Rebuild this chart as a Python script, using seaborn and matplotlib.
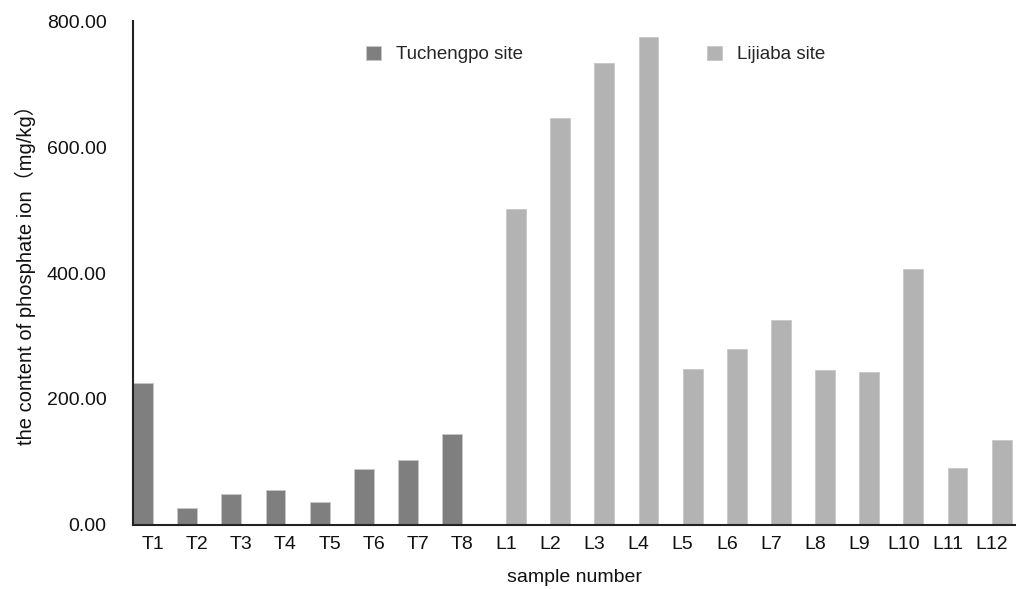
import pandas as pd
import matplotlib
matplotlib.use("Agg")
import matplotlib.pyplot as plt
import seaborn as sns

# sample values (mg/kg)
t_samples = ["T1", "T2", "T3", "T4", "T5", "T6", "T7", "T8"]
t_values = [226, 27, 49, 56, 37, 89, 103, 145]
l_samples = ["L1", "L2", "L3", "L4", "L5", "L6", "L7", "L8", "L9", "L10", "L11", "L12"]
l_values = [501, 647, 733, 775, 248, 280, 326, 246, 243, 407, 91, 135]
sites = ["Tuchengpo site", "Lijiaba site"]
site_colors = ["#7f7f7f", "#b3b3b3"]

df = pd.DataFrame({
    "sample": t_samples + l_samples,
    "value": t_values + l_values,
    "site": [sites[0]] * len(t_samples) + [sites[1]] * len(l_samples),
})

sns.set_style("white")
plt.rcParams["font.family"] = ["Liberation Sans", "Noto Sans CJK SC", "DejaVu Sans"]

fig = plt.figure(figsize=(10.16, 5.89), dpi=100)
ax = fig.add_axes([0.131, 0.109, 0.869, 0.855])

sns.barplot(data=df, x="sample", y="value", hue="site", hue_order=sites,
            palette=site_colors, width=0.9, dodge=True, ax=ax,
            edgecolor="#c8c8c8", linewidth=0.6, saturation=1)

ax.set_xlim(-0.45, 19.55)
ax.set_ylim(0, 800)
ax.set_yticks([0, 200, 400, 600, 800])
ax.set_yticklabels([f"{v:.2f}" for v in [0, 200, 400, 600, 800]])
ax.tick_params(axis="both", length=0, labelsize=14, colors="#111111")
ax.tick_params(axis="y", pad=19)
ax.tick_params(axis="x", pad=8)

sns.despine(ax=ax, top=True, right=True)
for s in ["left", "bottom"]:
    ax.spines[s].set_color("#222222")
    ax.spines[s].set_linewidth(1.5)

ax.set_xlabel("sample number", fontsize=14, color="#111111")
ax.xaxis.set_label_coords(0.5, -0.088)
ax.set_ylabel("the content of phosphate ion（mg/kg）", fontsize=14.5, color="#111111")
ax.yaxis.set_label_coords(-0.11, 0.505)

ax.legend(loc="upper left", bbox_to_anchor=(0.245, 0.985), ncol=2, frameon=False,
          fontsize=13.5, handlelength=0.8, handleheight=0.8, handletextpad=0.8,
          columnspacing=9.8)

fig.savefig("out.png", dpi=100)
